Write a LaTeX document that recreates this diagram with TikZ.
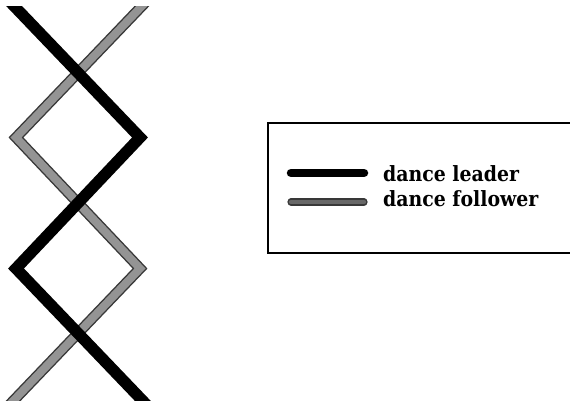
\documentclass[tikz,border=0pt]{standalone}
\usepackage{fontspec}
\setmainfont{DejaVu Serif}
\newfontfamily\legendfont{DejaVu Serif Condensed}[BoldFont={DejaVu Serif Condensed Bold}]
\usetikzlibrary{calc}
\definecolor{followdark}{gray}{0.22}
\definecolor{followfill}{gray}{0.58}
\tikzset{
  leader/.style={draw=black, line width=11.5pt, line join=miter, line cap=butt},
  follower/.style={draw=followdark, line width=1.4pt, double=followfill, double distance=8pt, line join=miter, line cap=butt},
  legleader/.style={draw=black, line width=8.5pt, line cap=round},
  legfollower/.style={draw=followdark, line width=1.4pt, double=followfill!70!black, double distance=4.4pt, line cap=round},
  legtext/.style={anchor=base west, inner sep=0pt, font=\legendfont\bfseries\fontsize{21}{25}\selectfont},
  legbox/.style={draw=black, line width=1.6pt}
}
\begin{document}
\begin{tikzpicture}[x=1pt, y=-1pt]
\useasboundingbox (0,0) rectangle (570,403);
\fill[white] (0,0) rectangle (570,403);
% zigzag corners
\coordinate (L1) at (15,7);
\coordinate (R1) at (141,7);
\coordinate (L2) at (16,137.5);
\coordinate (R2) at (140,137.5);
\coordinate (L3) at (16,268.5);
\coordinate (R3) at (140,268.5);
\coordinate (L4) at (15,399);
\coordinate (R4) at (141,399);
\begin{scope}
\clip (0,7) rectangle (170,400);
% follower (grey), drawn first
\draw[follower] ($(R1)!-0.12!(L2)$) -- (L2) -- (R3) -- ($(L4)!-0.12!(R3)$);
% leader (black), on top
\draw[leader] ($(L1)!-0.12!(R2)$) -- (R2) -- (L3) -- ($(R4)!-0.12!(L3)$);
\end{scope}
% legend
\draw[legbox] (572,123) -- (268,123) -- (268,253) -- (572,253);
\coordinate (la) at (291,173);
\coordinate (lb) at (364,173);
\coordinate (fa) at (291,202);
\coordinate (fb) at (364,202);
\draw[legleader] (la) -- (lb);
\draw[legfollower] (fa) -- (fb);
\node[legtext] (tl) at (383,182) {dance leader};
\node[legtext] (tf) at (383,207) {dance follower};
\end{tikzpicture}
\end{document}
